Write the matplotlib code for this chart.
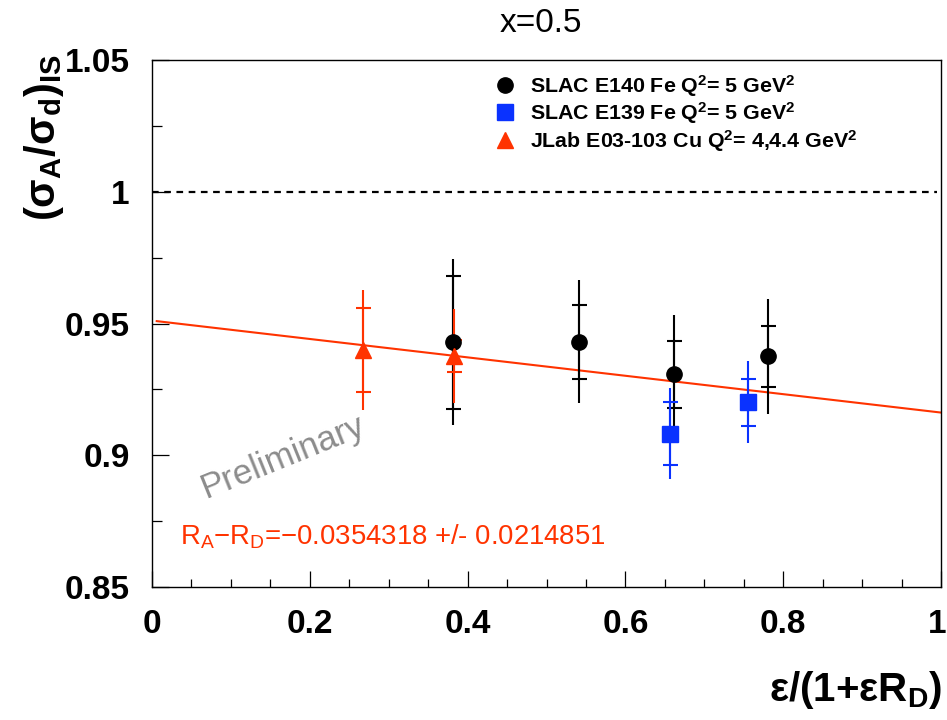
import matplotlib
matplotlib.use("Agg")
import matplotlib.pyplot as plt
from matplotlib.lines import Line2D
from matplotlib.ticker import MultipleLocator, FuncFormatter

plt.rcParams['font.family'] = ['Liberation Sans', 'DejaVu Sans']
plt.rcParams['mathtext.fontset'] = 'custom'
plt.rcParams['mathtext.rm'] = 'Liberation Sans'
plt.rcParams['mathtext.bf'] = 'Liberation Sans:bold'
plt.rcParams['mathtext.it'] = 'Liberation Sans:italic'

# SLAC E140 Fe
e140_x = [0.381, 0.541, 0.661, 0.781]
e140_y = [0.9429, 0.9431, 0.9307, 0.9376]
e140_stat = [0.0253, 0.0140, 0.0127, 0.0116]
e140_tot = [0.0314, 0.0234, 0.0225, 0.0218]

# SLAC E139 Fe
e139_x = [0.6565, 0.755]
e139_y = [0.9082, 0.9201]
e139_stat = [0.0119, 0.0089]
e139_tot = [0.0174, 0.0156]

# JLab E03-103 Cu
jlab_x = [0.268, 0.383]
jlab_y = [0.9400, 0.9377]
jlab_stat = [0.0160, 0.0061]
jlab_tot = [0.0229, 0.0177]

# linear fit drawn over the points
fit_x = [0.006, 1.0]
fit_y = [0.9509, 0.9162]

labels = [r'SLAC E140 Fe Q$\mathbf{^2}$= 5 GeV$\mathbf{^2}$',
          r'SLAC E139 Fe Q$\mathbf{^2}$= 5 GeV$\mathbf{^2}$',
          r'JLab E03-103 Cu Q$\mathbf{^2}$= 4,4.4 GeV$\mathbf{^2}$']
fit_text = r'R$_\mathrm{A}$$-$R$_\mathrm{D}$=$-$0.0354318 +/- 0.0214851'

red = '#ff3300'
blue = '#0a32ff'

fig = plt.figure(figsize=(9.47, 7.2), dpi=100)
ax = fig.add_axes([152 / 947, 1 - 587 / 720, 789 / 947, 527 / 720])

ax.axhline(1.0, color='black', ls=(0, (3, 2.5)), lw=1.6, xmax=0.995)
ax.plot(fit_x, fit_y, color=red, lw=1.5, zorder=2)

series = [
    (e140_x, e140_y, e140_stat, e140_tot, 'black', 'o'),
    (e139_x, e139_y, e139_stat, e139_tot, blue, 's'),
    (jlab_x, jlab_y, jlab_stat, jlab_tot, red, '^'),
]
handles = []
for x, y, stat, tot, c, m in series:
    ax.errorbar(x, y, yerr=tot, fmt='none', ecolor=c, elinewidth=1.5, capsize=0, zorder=3)
    ax.errorbar(x, y, yerr=stat, fmt='none', ecolor=c, elinewidth=1.5, capsize=5.4,
                capthick=1.5, zorder=3)
    ax.plot(x, y, ls='none', marker=m, color=c, ms=11, zorder=4)
    handles.append(Line2D([], [], ls='none', marker=m, color=c, ms=11))

ax.legend(handles, labels, loc='upper left', bbox_to_anchor=(0.436, 0.976),
          frameon=False, handlelength=0.85, handletextpad=0.75, borderaxespad=0,
          borderpad=0, labelspacing=0.08, prop={'weight': 'bold', 'size': 15.4})

ax.text(0.166, 0.8993, 'Preliminary', rotation=22, color='#8c8c8c', fontsize=25,
        ha='center', va='center')
ax.text(0.0355, 0.869, fit_text, color=red, fontsize=19.8, ha='left', va='center')

ax.set_xlim(0, 1)
ax.set_ylim(0.85, 1.05)
ax.xaxis.set_major_locator(MultipleLocator(0.2))
ax.xaxis.set_minor_locator(MultipleLocator(0.05))
ax.yaxis.set_major_locator(MultipleLocator(0.05))
ax.yaxis.set_minor_locator(MultipleLocator(0.025))
# the "1" at the right end is written separately so it stays inside the canvas
ax.xaxis.set_major_formatter(FuncFormatter(lambda v, p: '' if v > 0.99 else '%g' % round(v, 3)))
ax.yaxis.set_major_formatter(FuncFormatter(lambda v, p: '%g' % round(v, 3)))
ax.tick_params(which='both', direction='in', top=False, right=False, width=0.9)
ax.tick_params(axis='x', which='major', length=11.5, pad=16, labelsize=24)
ax.tick_params(axis='x', which='minor', length=5.8)
ax.tick_params(axis='y', which='major', length=12, pad=16, labelsize=24)
ax.tick_params(axis='y', which='minor', length=7)
for lab in ax.get_xticklabels() + ax.get_yticklabels():
    lab.set_fontweight('bold')
for s in ax.spines.values():
    s.set_linewidth(1.0)
ax.annotate('1', xy=(1, 0), xycoords='axes fraction', xytext=(-3, -16),
            textcoords='offset points', ha='center', va='top', fontsize=24,
            fontweight='bold')

fig.text(541 / 947, 1 - 24 / 720, 'x=0.5', ha='center', va='center', fontsize=24)
fig.text(44 / 947, 1 - 54 / 720,
         r'(σ$_\mathbf{A}$/σ$_\mathbf{d}$)$_\mathbf{IS}$',
         rotation=90, ha='center', va='top', fontsize=30, fontweight='bold')
fig.text(942 / 947, 1 - 690 / 720, r'ε/(1+εR$_\mathbf{D}$)',
         ha='right', va='center', fontsize=29, fontweight='bold')

fig.savefig('out.png', dpi=100)
